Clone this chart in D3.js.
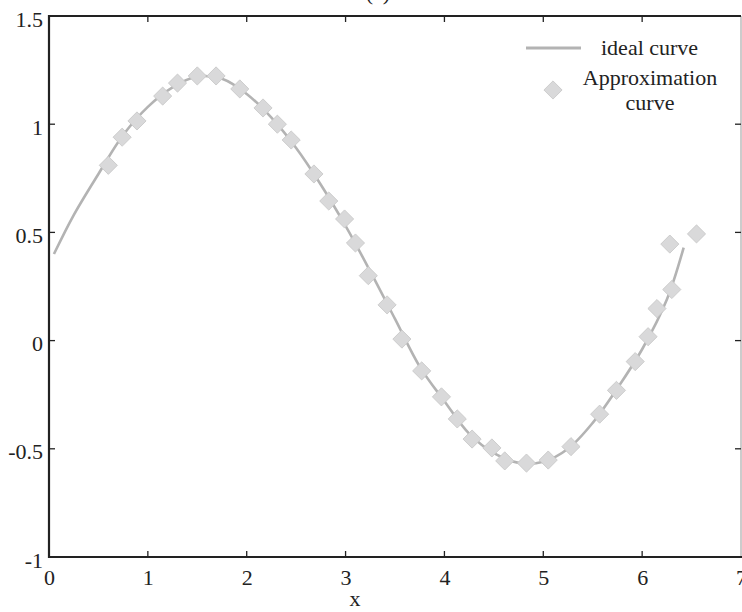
<!DOCTYPE html>
<html><head><meta charset="utf-8">
<script src="https://cdn.jsdelivr.net/npm/d3@7"></script>
<style>body{margin:0;background:#fff}svg{display:block}text{font-family:"Liberation Serif","Times New Roman",serif;fill:#222}</style>
</head><body><svg id="c" width="742" height="612"></svg>
<script>
// ideal curve
const idealX = [0.05,0.25,0.5,0.75,1.0,1.25,1.5,1.75,2.0,2.25,2.5,2.75,3.0,3.25,3.5,3.75,4.0,4.25,4.5,4.75,5.0,5.25,5.5,5.75,6.0,6.25,6.42];
const idealY = [0.40,0.58,0.77,0.95,1.08,1.17,1.22,1.21,1.14,1.03,0.89,0.72,0.53,0.32,0.10,-0.12,-0.28,-0.43,-0.52,-0.565,-0.56,-0.50,-0.38,-0.22,-0.04,0.19,0.43];
// approximation points
const approxX = [0.60,0.74,0.89,1.15,1.30,1.50,1.69,1.93,2.165,2.31,2.45,2.68,2.83,2.99,3.10,3.23,3.42,3.57,3.77,3.97,4.13,4.28,4.48,4.61,4.83,5.05,5.28,5.57,5.74,5.93,6.06,6.15,6.30,6.28,6.55];
const approxY = [0.81,0.94,1.015,1.13,1.19,1.223,1.223,1.163,1.075,1.0,0.927,0.77,0.645,0.562,0.451,0.30,0.165,0.007,-0.14,-0.26,-0.362,-0.455,-0.496,-0.556,-0.566,-0.552,-0.49,-0.34,-0.23,-0.097,0.018,0.148,0.236,0.446,0.493];
const xTicks = [0,1,2,3,4,5,6,7];
const yTicks = [-1,-0.5,0,0.5,1,1.5];
const legendLabels = ["ideal curve", "Approximation", "curve"];

const svg = d3.select("#c");
const L = 49, R = 741, T = 16, B = 557;
const x = d3.scaleLinear().domain([0,7]).range([L,R]);
const y = d3.scaleLinear().domain([-1,1.5]).range([B,T]);
const fs = "22px";

// title (cut off)
svg.append("text").attr("x",378).attr("y",0).attr("text-anchor","middle").style("font-size",fs).text("(a)");

// ideal curve
const line = d3.line().x(d=>x(d[0])).y(d=>y(d[1])).curve(d3.curveCatmullRom);
svg.append("path").datum(idealX.map((v,i)=>[v,idealY[i]]))
  .attr("d",line).attr("fill","none").attr("stroke","#b3b3b3").attr("stroke-width",2.6);

// diamonds
const diamond = d3.symbol().type(d3.symbolSquare).size(165);
svg.append("g").selectAll("path").data(approxX.map((v,i)=>[v,approxY[i]])).join("path")
  .attr("d",diamond)
  .attr("transform",d=>`translate(${x(d[0])},${y(d[1])}) rotate(45)`)
  .attr("fill","#d9d9da").attr("stroke","#c8c8c8").attr("stroke-width",0.8);

// axes frame
svg.append("line").attr("x1",R).attr("x2",R).attr("y1",T).attr("y2",B).attr("stroke","#999").attr("stroke-width",1);
svg.append("line").attr("x1",L).attr("x2",R).attr("y1",T).attr("y2",T).attr("stroke","#222").attr("stroke-width",2);
svg.append("line").attr("x1",L).attr("x2",R+1).attr("y1",B).attr("y2",B).attr("stroke","#222").attr("stroke-width",2.2);
svg.append("line").attr("x1",L).attr("x2",L).attr("y1",T-1).attr("y2",B+1).attr("stroke","#222").attr("stroke-width",2.2);

// bottom axis
const xb = d3.axisBottom(x).tickValues(xTicks).tickSize(0).tickPadding(12).tickFormat(d3.format("d"));
const gx = svg.append("g").attr("transform",`translate(0,${B})`).call(xb);
gx.select(".domain").remove();
gx.selectAll("text").style("font-size",fs).style("font-family","Liberation Serif").attr("fill","#222");
// inward ticks bottom / top
xTicks.slice(1,7).forEach(t=>{
  svg.append("line").attr("x1",x(t)).attr("x2",x(t)).attr("y1",B).attr("y2",B-6).attr("stroke","#222").attr("stroke-width",1.3);
  svg.append("line").attr("x1",x(t)).attr("x2",x(t)).attr("y1",T).attr("y2",T+6).attr("stroke","#222").attr("stroke-width",1.3);
});
// left axis
const yl = d3.axisLeft(y).tickValues(yTicks).tickSize(0).tickPadding(6).tickFormat(d=>String(d));
const gy = svg.append("g").attr("transform",`translate(${L},0)`).call(yl);
gy.select(".domain").remove();
gy.selectAll("text").style("font-size",fs).style("font-family","Liberation Serif").attr("fill","#222").attr("dy","0.46em");
yTicks.slice(1,5).forEach(t=>{
  svg.append("line").attr("x1",L).attr("x2",L+6).attr("y1",y(t)).attr("y2",y(t)).attr("stroke","#222").attr("stroke-width",1.3);
  svg.append("line").attr("x1",R).attr("x2",R-6).attr("y1",y(t)).attr("y2",y(t)).attr("stroke","#222").attr("stroke-width",1.3);
});

// x label
svg.append("text").attr("x",355).attr("y",606).attr("text-anchor","middle").style("font-size",fs).text("x");

// legend
svg.append("line").attr("x1",526).attr("x2",581).attr("y1",48).attr("y2",48).attr("stroke","#b3b3b3").attr("stroke-width",3);
svg.append("text").attr("x",601).attr("y",55).style("font-size",fs).text(legendLabels[0]);
svg.append("path").attr("d",diamond).attr("transform","translate(553,90) rotate(45)").attr("fill","#d9d9da").attr("stroke","#c8c8c8").attr("stroke-width",0.8);
svg.append("text").attr("x",650).attr("y",85).attr("text-anchor","middle").style("font-size",fs).text(legendLabels[1]);
svg.append("text").attr("x",650).attr("y",110).attr("text-anchor","middle").style("font-size",fs).text(legendLabels[2]);
</script></body></html>
